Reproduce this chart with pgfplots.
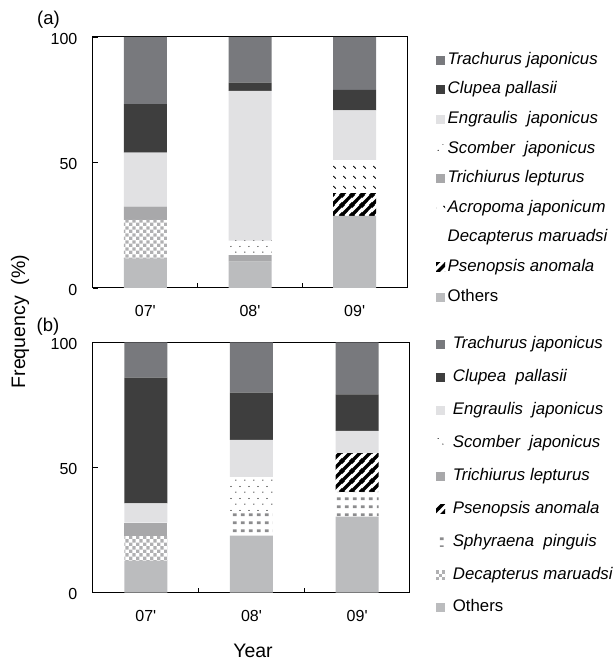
\documentclass[border=0pt]{standalone}
\usepackage{fontspec}
\setmainfont{Liberation Sans}
\usepackage{pgfplots}
\pgfplotsset{compat=1.18}
\usepackage{pgfplotstable}
\usetikzlibrary{patterns.meta}

\definecolor{cTrach}{RGB}{120,121,125}
\definecolor{cClup}{RGB}{62,62,62}
\definecolor{cEngr}{RGB}{225,225,227}
\definecolor{cTrich}{RGB}{168,168,170}
\definecolor{cOth}{RGB}{187,188,190}
\definecolor{cChk}{RGB}{176,176,178}
\definecolor{cSphy}{RGB}{140,140,142}

\tikzdeclarepattern{name=chk, type=uncolored,
  bottom left={(0pt,0pt)}, top right={(6.8pt,6.8pt)}, tile size={(6.8pt,6.8pt)},
  code={\fill (0pt,0pt) rectangle (3.4pt,3.4pt); \fill (3.4pt,3.4pt) rectangle (6.8pt,6.8pt);}}
\tikzdeclarepattern{name=sdots, type=uncolored,
  bottom left={(0pt,0pt)}, top right={(9pt,12pt)}, tile size={(9pt,12pt)},
  code={\fill (2pt,2pt) circle (0.65pt); \fill (6.5pt,8pt) circle (0.65pt);}}
\tikzdeclarepattern{name=sdash, type=uncolored,
  bottom left={(0pt,0pt)}, top right={(10pt,10pt)}, tile size={(10pt,10pt)},
  code={\draw[line width=1.1pt] (3.6pt,6.4pt) -- (6.3pt,3.7pt);}}
\tikzdeclarepattern{name=stripe, type=uncolored,
  bottom left={(0pt,0pt)}, top right={(9.5pt,9.5pt)}, tile size={(9.5pt,9.5pt)},
  code={\draw[line width=3.4pt] (-1pt,-1pt) -- (10.5pt,10.5pt);
        \draw[line width=3.4pt] (-5.75pt,3.75pt) -- (5.75pt,15.25pt);
        \draw[line width=3.4pt] (3.75pt,-5.75pt) -- (15.25pt,5.75pt);}}
\tikzdeclarepattern{name=sq, type=uncolored,
  bottom left={(0pt,0pt)}, top right={(8.3pt,8pt)}, tile size={(8.3pt,8pt)},
  code={\fill (1pt,2pt) rectangle (5pt,5pt);}}

\pgfplotstableread{
x Oth Psen Deca Acro Trich Scom Engr Clup Trach
1 11.8 0 15.3 0 5.3 0 21.5 19.4 26.7
2 10.5 0 0 0 2.6 5.8 59.6 3.3 18.2
3 28.7 9.0 0 13.3 0 0 19.8 8.1 21.1
}\tabA

\pgfplotstableread{
x Oth Deca Sphy Psen Trich Scom Engr Clup Trach
1 12.8 9.8 0 0 5.4 0 7.7 50.2 14.1
2 22.8 0 10.2 0 0 13.3 14.7 18.9 20.1
3 30.4 0 9.9 15.4 0 0 8.9 14.6 20.8
}\tabB

\pgfplotsset{
  sqleg/.style={legend image code/.code={\fill[##1] (0pt,-4.5pt) rectangle (9pt,4.5pt);}},
  noleg/.style={legend image code/.code={}},
  common/.style={
    scale only axis, anchor=south west,
    xmin=0.5, xmax=3.5, ymin=0, ymax=100,
    ybar stacked, bar width=43pt,
    xtick={1.5,2.5}, xticklabels={},
    extra x ticks={1,2,3},
    extra x tick labels={07\textquotesingle,08\textquotesingle,09\textquotesingle},
    extra x tick style={major tick length=0pt},
    ytick={0,50,100},
    tick align=inside, tick pos=left, major tick length=5pt,
    tick style={black, line width=0.9pt},
    axis line style={line width=1pt},
    tick label style={/pgf/number format/assume math mode=true, font=\fontsize{16}{19}\selectfont},
    yticklabel style={inner sep=0pt, xshift=-15.5pt, yshift=-1.5pt},
    xticklabel style={inner sep=0pt, yshift=-17.5pt},
    reverse legend, legend cell align=left,
    legend style={draw=none, fill=none, inner sep=0pt, anchor=north west,
      font=\fontsize{16.8}{19}\selectfont,
      nodes={inner sep=0pt, text height=12pt, text depth=4pt}},
  }
}

\begin{document}
\begin{tikzpicture}
\useasboundingbox (0pt,0pt) rectangle (614pt,662pt);
\begin{axis}[common, at={(93pt,374pt)}, width=314pt, height=251pt,
  legend style={at={(1.0925,0.94)}, row sep=13.6pt, column sep=2.5pt}]
\addplot[fill=cOth, draw=none, sqleg] table[x=x,y=Oth]{\tabA};
\addlegendentry{Others}
\addplot[pattern=stripe, pattern color=black, draw=none, sqleg] table[x=x,y=Psen]{\tabA};
\addlegendentry{\itshape Psenopsis anomala}
\addplot[pattern=chk, pattern color=cChk, draw=none, noleg] table[x=x,y=Deca]{\tabA};
\addlegendentry{\itshape Decapterus maruadsi}
\addplot[pattern=sdash, pattern color=black, draw=none, sqleg] table[x=x,y=Acro]{\tabA};
\addlegendentry{\itshape Acropoma japonicum}
\addplot[fill=cTrich, draw=none, sqleg] table[x=x,y=Trich]{\tabA};
\addlegendentry{\itshape Trichiurus lepturus}
\addplot[pattern=sdots, pattern color=black, draw=none, sqleg] table[x=x,y=Scom]{\tabA};
\addlegendentry{\itshape Scomber\ \ japonicus}
\addplot[fill=cEngr, draw=none, sqleg] table[x=x,y=Engr]{\tabA};
\addlegendentry{\itshape Engraulis\ \ japonicus}
\addplot[fill=cClup, draw=none, sqleg] table[x=x,y=Clup]{\tabA};
\addlegendentry{\itshape Clupea pallasii}
\addplot[fill=cTrach, draw=none, sqleg] table[x=x,y=Trach]{\tabA};
\addlegendentry{\itshape Trachurus japonicus}
\end{axis}

\begin{axis}[common, at={(93pt,69.3pt)}, width=317pt, height=250.4pt,
  legend style={at={(1.082,1.023)}, row sep=16.9pt, column sep=7.7pt}]
\addplot[fill=cOth, draw=none, sqleg] table[x=x,y=Oth]{\tabB};
\addlegendentry{Others}
\addplot[pattern=chk, pattern color=cChk, draw=none, sqleg] table[x=x,y=Deca]{\tabB};
\addlegendentry{\itshape Decapterus maruadsi}
\addplot[pattern=sq, pattern color=cSphy, draw=none, sqleg] table[x=x,y=Sphy]{\tabB};
\addlegendentry{\itshape Sphyraena\ \ pinguis}
\addplot[pattern=stripe, pattern color=black, draw=none, sqleg] table[x=x,y=Psen]{\tabB};
\addlegendentry{\itshape Psenopsis anomala}
\addplot[fill=cTrich, draw=none, sqleg] table[x=x,y=Trich]{\tabB};
\addlegendentry{\itshape Trichiurus lepturus}
\addplot[pattern=sdots, pattern color=black, draw=none, sqleg] table[x=x,y=Scom]{\tabB};
\addlegendentry{\itshape Scomber\ \ japonicus}
\addplot[fill=cEngr, draw=none, sqleg] table[x=x,y=Engr]{\tabB};
\addlegendentry{\itshape Engraulis\ \ japonicus}
\addplot[fill=cClup, draw=none, sqleg] table[x=x,y=Clup]{\tabB};
\addlegendentry{\itshape Clupea\ \ pallasii}
\addplot[fill=cTrach, draw=none, sqleg] table[x=x,y=Trach]{\tabB};
\addlegendentry{\itshape Trachurus japonicus}
\end{axis}

\node[font=\fontsize{18.5}{21}\selectfont] at (48.5pt,642.3pt) {(a)};
\node[font=\fontsize{18.5}{21}\selectfont] at (48pt,335pt) {(b)};
\node[rotate=90, font=\fontsize{19.5}{23}\selectfont] at (20pt,340.3pt) {Frequency\ \ (\%)};
\node[font=\fontsize{19.5}{23}\selectfont] at (253pt,11pt) {Year};
\end{tikzpicture}
\end{document}
